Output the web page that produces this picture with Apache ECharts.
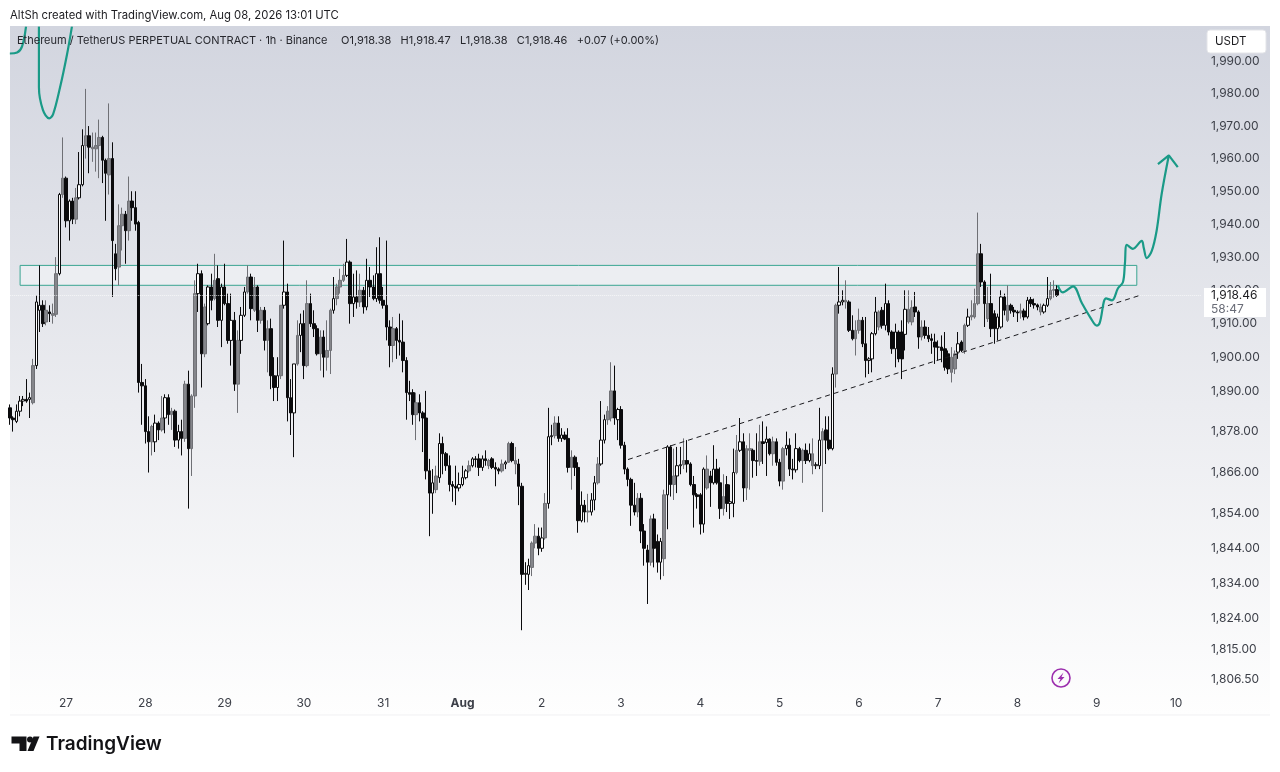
<!DOCTYPE html>
<html lang="en">
<head>
    <meta charset="UTF-8">
    <title>Ethereum / TetherUS PERPETUAL CONTRACT 1h</title>
    <script src="https://cdn.jsdelivr.net/npm/echarts@6/dist/echarts.min.js"></script>
    <style>
        html, body { margin: 0; padding: 0; background: #fff; }
        #main { width: 1280px; height: 772px; }
    </style>
</head>
<body>
<div id="main"></div>
<script type="text/javascript">
    // each row: open, close, low, high
    var jul26 = [[1885,1882,1880,1886],[1882,1881.5,1878,1882.5],[1881,1884,1880.5,1886],[1884,1887,1882.5,1888.5],[1887,1887.5,1885.5,1888.5],[1887.5,1887,1886.5,1893.5],[1887.5,1888,1882,1889.5],[1886.5,1897.5,1886,1899.5],[1897.5,1916.5,1896.5,1918.5],[1914,1915.5,1907.5,1927.5],[1915.5,1910,1909,1917],[1914,1910.5,1909.5,1917],[1913.5,1913,1910.5,1915.5],[1913,1912.5,1910,1916],[1912.8,1925,1912,1930],[1925,1949,1924.5,1949.5],[1949,1954,1948,1966.5]];
    var jul27 = [[1954,1941,1939,1954.5],[1941,1947,1935,1947.5],[1947,1941.5,1940,1948],[1941.5,1948,1940,1951],[1948,1952,1947.5,1962],[1952,1964,1951.5,1969],[1964,1967,1960,1981.5],[1967,1963.5,1955.5,1970],[1963.5,1963,1959,1968],[1963,1964,1956,1968],[1964,1966.5,1954,1972],[1966.5,1959.5,1952.5,1967],[1959.5,1955.5,1941,1960],[1955,1960,1949,1977],[1960,1935,1918,1965],[1931,1926.5,1923,1934],[1927,1939.5,1921.5,1946],[1939.5,1943,1932,1945],[1943,1938,1928,1944],[1938,1947,1935,1954.5],[1947,1945,1941,1950],[1945,1940,1938,1950],[1940.5,1892.5,1889.5,1941],[1892.5,1891.5,1880,1898]];
    var jul28 = [[1891.5,1878,1874.5,1893.5],[1878,1875,1866,1882.5],[1875,1879.5,1871,1880],[1875,1880.5,1872,1883],[1880.5,1878.5,1875.5,1881],[1878.5,1882,1878,1888.5],[1882,1888,1877.5,1889],[1888,1883,1880,1889],[1883,1884,1878.5,1885],[1884,1875.5,1873.5,1884.5],[1875.5,1878,1873,1880],[1878,1876,1871,1881.5],[1876,1892,1875,1893],[1892,1873,1855.5,1896],[1873,1888.5,1865,1889],[1888.5,1919,1885,1923],[1919,1925,1913.5,1928],[1925,1901,1891,1926],[1901,1915,1900,1916],[1910,1921,1909.5,1921.5],[1921,1917,1914,1925],[1917.5,1923,1917,1931],[1923.5,1911,1909,1927.5],[1911,1921,1903,1922]];
    var jul29 = [[1921,1916,1915.5,1928],[1916,1905,1904,1919],[1905,1911,1897.5,1919],[1911,1892,1890,1913.5],[1892,1905,1883.5,1908],[1905,1912.5,1901,1915],[1912.5,1919.5,1912,1921],[1919.5,1924,1919,1927.5],[1924,1914.5,1911,1925],[1914,1921,1913.5,1924],[1921,1911,1907.5,1921.5],[1911,1914,1910,1915],[1914,1905,1902,1915],[1905,1908.5,1895.5,1911],[1908.5,1894.5,1890.5,1911.5],[1894.5,1891,1887,1900],[1891,1894.5,1887,1900],[1894.5,1915.5,1893.5,1915.5],[1915.5,1919.5,1914.5,1935],[1919.5,1888,1881,1922],[1888,1883.5,1877,1893.5],[1883.5,1898,1870.5,1898],[1898,1906.5,1897.5,1911],[1906.5,1910,1901.5,1913]];
    var jul30 = [[1910,1897.5,1893.5,1914],[1897.5,1916,1897,1923],[1916,1910,1909,1919],[1910,1908.5,1906,1914],[1908.5,1901,1900.5,1909.5],[1901,1906,1896,1908],[1906,1900,1894,1908],[1900,1902,1896,1911],[1902,1914,1895,1914.5],[1914,1917.5,1913,1924],[1917.5,1921,1915.5,1922],[1921,1923,1919,1926.5],[1923,1924.5,1922.5,1928],[1924.5,1928.5,1924,1935.5],[1928.5,1916,1910,1929],[1916,1918,1912,1925],[1918,1916.5,1914.5,1926],[1916.5,1920,1915,1925],[1920,1915,1913,1921],[1915,1923,1914,1929.5],[1923,1921,1918,1927],[1921,1917.5,1917,1924.5],[1917.5,1925,1916.5,1933],[1925,1917,1916,1936]];
    var jul31 = [[1917,1915.5,1914.5,1921],[1915.5,1909,1905,1935],[1909,1903.5,1897,1911],[1903.5,1908.5,1898.5,1912],[1908.5,1905,1899.5,1909],[1905,1904.5,1900.5,1913],[1904.5,1899,1895.5,1911],[1899,1889.5,1881.5,1900],[1889.5,1889,1887,1893],[1889.5,1883,1880,1890.5],[1883,1886.5,1875.5,1889.5],[1886.5,1883.5,1881,1889],[1883.5,1882,1872,1884],[1882,1866.5,1864,1890],[1866.5,1860,1847.5,1870],[1860,1863,1854,1867],[1861,1865,1860,1868],[1864.5,1874.5,1863,1877.5],[1874.5,1871.5,1865.5,1876.5],[1871.5,1868,1866.5,1872],[1868,1862.5,1860.5,1871],[1862.5,1862,1857.5,1863.5],[1862,1861.5,1856.5,1868],[1861.5,1862.5,1860.5,1866]];
    var aug1 = [[1862.5,1864.5,1862,1868],[1864.5,1866.5,1864,1867],[1866.5,1868,1866,1869.5],[1868,1870,1867.5,1870.5],[1870,1869.8,1867.5,1870.8],[1870,1867.5,1865,1871.5],[1867.5,1870,1866.5,1871],[1870,1869.5,1868,1872.5],[1869.5,1868,1867,1870],[1870,1867.5,1867,1870.5],[1867.5,1867,1862,1869],[1867,1866.5,1865.5,1867.5],[1866.5,1868.5,1866,1869.8],[1868.5,1869,1867,1869.5],[1869,1874.5,1868.8,1875],[1874.5,1869.5,1869,1875],[1869.5,1868.5,1865.5,1873.5],[1868.5,1862,1856.5,1870],[1862,1836.5,1820.5,1863],[1836.5,1836.8,1833.5,1840],[1836.5,1839,1832,1841],[1838.5,1845.5,1836,1846],[1845.5,1847.5,1844,1851],[1847.5,1844,1842,1850]];
    var aug2 = [[1844,1847,1843,1850],[1847,1857,1846.5,1860],[1857,1876.5,1855.5,1885],[1876.5,1876.8,1874,1880],[1876.8,1880.5,1876,1882.5],[1880.5,1876,1875,1882.5],[1876,1877,1875,1879],[1877,1875.8,1875.5,1878],[1876,1867.5,1866,1879],[1867.5,1870.5,1861,1872.5],[1870.5,1867.5,1865,1871],[1867.5,1852,1848.5,1869],[1852,1856.5,1851.5,1860.5],[1856.5,1854.5,1851.5,1858],[1854.5,1854.8,1851.5,1859.8],[1854.5,1858,1853.5,1860],[1858,1863,1855,1865],[1863,1868.5,1862.5,1870.5],[1868.5,1875.5,1868,1887],[1875.5,1881.5,1874.5,1883],[1881.5,1884,1880,1885.5],[1882,1890,1881,1898.5],[1890,1882,1880,1897.5],[1881.5,1884.5,1875.5,1885]];
    var aug3 = [[1884.5,1874,1873,1885.5],[1874,1867,1865.5,1875],[1867,1864,1862,1867.5],[1864,1856.5,1850.5,1864.5],[1856.5,1854.5,1853.5,1863],[1854.5,1858.5,1853,1860],[1858.5,1849,1845.5,1860],[1849,1844,1839,1851],[1843.5,1840,1828,1845],[1840,1852.5,1839,1853.5],[1852.5,1844,1838.5,1854],[1846,1840,1837,1848],[1840,1846,1835,1847],[1841,1859.5,1836,1861],[1859.5,1873.5,1849.5,1874],[1873.5,1862.5,1859,1874],[1862.5,1865,1858,1873],[1865,1868,1860,1873.5],[1868,1868.3,1865.5,1873.5],[1868.3,1869.5,1867,1876],[1869.5,1868.5,1866,1875.5],[1868.5,1862.5,1862,1869],[1862.5,1859.5,1850,1865],[1859.5,1859,1855.5,1860]];
    var aug4 = [[1859.5,1851,1848,1860],[1851,1867,1848.5,1867.5],[1867,1861.5,1861,1871],[1865,1863,1856,1866.5],[1863,1867,1862.5,1874],[1867,1863,1862.5,1870],[1863,1855.5,1852.5,1867.5],[1855.5,1859,1853.5,1865.5],[1862.5,1857,1854.5,1865],[1857,1857.5,1852.5,1862.5],[1857,1866,1853,1873],[1866,1872.5,1865.5,1877],[1872.5,1875,1872,1882],[1875,1861.5,1857.5,1877.5],[1861.5,1873,1858,1874],[1873,1872.5,1861,1877.5],[1872.5,1869.5,1864.5,1873],[1869.5,1869.3,1865,1877.5],[1869.3,1875,1868,1880],[1875,1874.5,1868.5,1881],[1874.8,1875.8,1865,1879.5],[1875.8,1871.5,1871,1876],[1871.5,1875,1868,1876.5],[1875,1869,1868,1876]];
    var aug5 = [[1869,1863.5,1862,1870],[1863.5,1873,1861,1873.5],[1873,1874,1871,1878],[1874,1867,1865,1876],[1867,1866.8,1864,1870],[1866.8,1873,1866,1877.5],[1873,1869.5,1869,1873.5],[1869.5,1872.5,1863,1873],[1872.5,1869.5,1868.5,1874.5],[1869.5,1871.5,1869,1874.5],[1871.5,1868,1865.5,1876],[1868,1868.3,1867,1869],[1868,1875.5,1867,1885],[1875.5,1878,1854.5,1879],[1878.5,1875.5,1868.5,1882.5],[1875.5,1873,1872.5,1882.5],[1873,1895,1872.5,1897],[1895,1915.5,1891,1916],[1915.5,1916.5,1913,1927],[1916.5,1917,1915.5,1920],[1917,1916.5,1914.5,1923],[1916.5,1908,1907.5,1917],[1908,1905.5,1905,1912.5],[1905.5,1908,1900.5,1911]];
    var aug6 = [[1908,1911,1907,1914.5],[1911,1904,1903,1912],[1904,1899,1894,1912],[1899,1899.5,1895,1900],[1899.5,1907,1895.5,1907.5],[1907,1913.5,1906.5,1918],[1913.5,1909,1908,1914],[1914,1909.5,1908.5,1915],[1909.5,1916,1908,1922],[1916,1907.5,1906.5,1917],[1907.5,1902.5,1901,1908],[1902.5,1907.5,1897,1910],[1907.5,1899.5,1898.5,1908],[1907.5,1899.5,1893.5,1911],[1906.8,1914.3,1902,1920],[1914.3,1910.5,1910,1920],[1910.5,1914.8,1909.5,1917],[1915,1913.5,1912,1919.5],[1913.5,1906,1902.5,1914],[1906,1909,1905,1911],[1909,1906.5,1905.5,1911],[1906.5,1905.5,1904.5,1909],[1905.5,1905,1901,1907],[1904.5,1903,1898,1907]];
    var aug7 = [[1903,1903,1899,1905],[1903,1902,1898.5,1906.5],[1902.5,1897,1896,1907.5],[1901,1896.5,1895,1902],[1895.5,1900,1892.5,1903],[1896.5,1901,1895,1902],[1901.5,1904,1899.5,1907.5],[1904.5,1902,1901.5,1905],[1902,1909.5,1901,1910],[1909.5,1912,1909,1914.5],[1912,1912.5,1911,1917],[1912,1916,1911.5,1920.5],[1916,1931,1915.5,1943.5],[1931,1922.5,1921,1934],[1922.5,1916,1909,1923],[1911.5,1916,1910.5,1921],[1916,1908.5,1906,1925],[1913,1908.5,1904,1914],[1908.5,1912,1905,1913],[1909,1918,1908.5,1920],[1918,1914,1912.5,1919],[1911,1915.5,1910.5,1921.5],[1915.5,1914,1913,1916],[1914,1913.5,1912,1915]];
    var aug8 = [[1913.5,1913.2,1910.5,1914],[1913.2,1913.8,1911.5,1916],[1913.8,1912,1911,1914.5],[1912,1917,1911.5,1918],[1917.2,1916,1915,1918],[1916,1915.6,1914.5,1917.5],[1915.6,1915,1914,1916],[1915,1913.5,1912.5,1916],[1913.5,1915.5,1913,1916],[1915.5,1917.5,1915,1924],[1917.5,1920,1917,1922.5],[1920,1920.2,1917.8,1923],[1920.2,1918.46,1918,1921.5]];
    var candles = [].concat(jul26, jul27, jul28, jul29, jul30, jul31, aug1, aug2, aug3, aug4, aug5, aug6, aug7, aug8);

    // candles that look washed out in the screenshot
    var greyCandles = [7,11,13,14,16,20,23,25,26,27,30,33,34,36,43,46,49,53,55,56,59,62,69,72,74,76,78,82,87,90,94,96,97,99,100,101,106,116,123,129,139,145,149,151,153,158,159,162,165,170,175,178,181,182,190,194,198,201,204,211,216,220,223,224,227,231,234,240,243,246,250,253,256,257,263,272,273,276,285,286,289,291,292,293,296,302,306,312,315,316];

    var dayTicks = [17,41,65,89,113,137,161,185,209,233,257,281,305,329,353];
    var dayNames = ['27','28','29','30','31','Aug','2','3','4','5','6','7','8','9','10'];
    var priceTicks = [1990,1980,1970,1960,1950,1940,1930,1920,1910,1900,1890,1878,1866,1854,1844,1834,1824,1815,1806.5];
    var lastPrice = 1918.46;

    // drawn annotations, [bar position, price]
    var curveEdgeLeft = [[0,1992.5],[2.2,1992.8],[3.7,1994.7],[4.9,2001]];
    var curveDrop = [[8.8,2001],[8.8,1982],[10,1975],[11.9,1972.4],[13.1,1973.7],[15.2,1982],[17.3,1992.2],[18.8,2001]];
    var curveForecast = [[317.2,1921.5],[318.7,1919.4],[321.8,1921.2],[324.5,1916.1],[327,1911.9],[329,1909.4],[329.9,1910.3],[331.8,1917.6],[333.6,1917],[335.4,1920.6],[336.9,1922.4],[337.5,1928],[338.1,1933.7],[339.9,1932.5],[342.6,1934.9],[343.2,1932.8],[344.1,1929.7],[345.6,1931.8],[347.1,1938],[348.6,1949],[350.8,1961]];
    var arrowHead = [[347.5,1958.3],[350.8,1961],[353.5,1957.4]];
    var trendLine = [[187.1,1869.8],[342.1,1918.5]];
    var zoneBox = [[3.1,1927.5],[341.1,1921.5]];

    var barCount = 361;
    var categories = [];
    for (var i = 0; i < barCount; i++) categories.push(String(i));

    var candleData = candles.map(function (row, idx) {
        if (greyCandles.indexOf(idx) < 0) return row;
        return {
            value: row,
            itemStyle: { color: '#85868b', color0: '#85868b', borderColor: '#6f7075', borderColor0: '#6f7075' }
        };
    });

    var green = '#1a9a87';
    var font = 'Inter, "Liberation Sans", sans-serif';

    function greenLine(points) {
        return {
            type: 'line', xAxisIndex: 1, data: points, smooth: 0.35, symbol: 'none', z: 6, silent: true,
            lineStyle: { color: green, width: 2.2 }
        };
    }

    var myChart = echarts.init(document.getElementById('main'), null, { renderer: 'canvas' });

    var option = {
        animation: false,
        backgroundColor: '#ffffff',
        textStyle: { fontFamily: font },
        grid: { left: 8.2, top: 27.6, width: 1192.7, height: 664 },
        xAxis: [
            {
                type: 'category',
                data: categories,
                boundaryGap: true,
                axisLine: { show: false },
                axisTick: { show: false },
                splitLine: { show: false },
                axisLabel: {
                    margin: 5.5,
                    color: '#3d4049',
                    fontSize: 12,
                    fontFamily: font,
                    interval: function (idx) { return dayTicks.indexOf(idx) >= 0; },
                    formatter: function (value) {
                        var name = dayNames[dayTicks.indexOf(Number(value))];
                        return name === 'Aug' ? '{b|Aug}' : name;
                    },
                    rich: { b: { fontWeight: 'bold', fontSize: 12, color: '#3d4049', fontFamily: font } }
                }
            },
            { type: 'value', min: -0.5, max: barCount - 0.5, show: false }
        ],
        yAxis: {
            type: 'log',
            logBase: 10,
            position: 'right',
            min: 1803.1,
            max: 2000.6,
            axisLine: { show: false },
            axisTick: { show: false },
            splitLine: { show: false },
            axisLabel: {
                customValues: priceTicks,
                margin: 10,
                color: '#3d4049',
                fontSize: 12,
                fontFamily: font,
                formatter: function (v) {
                    return Number(v).toLocaleString('en-US', { minimumFractionDigits: 2, maximumFractionDigits: 2 });
                }
            }
        },
        series: [
            {
                type: 'candlestick',
                name: 'ETHUSDT',
                data: candleData,
                barWidth: 3,
                z: 4,
                itemStyle: {
                    color: '#ffffff',
                    color0: '#0b0b0d',
                    borderColor: '#0b0b0d',
                    borderColor0: '#0b0b0d',
                    borderWidth: 1
                },
                markLine: {
                    silent: true,
                    symbol: 'none',
                    label: { show: false },
                    lineStyle: { color: '#ffffff', type: 'dotted', width: 1, opacity: 0.7 },
                    data: [{ yAxis: lastPrice }]
                }
            },
            {
                type: 'line',
                xAxisIndex: 1,
                data: trendLine,
                symbol: 'none',
                z: 5,
                silent: true,
                lineStyle: { color: '#1b1b1f', width: 1, type: [5, 4] },
                markArea: {
                    silent: true,
                    itemStyle: { color: 'rgba(246,248,250,0.5)', borderColor: '#3aa592', borderWidth: 1 },
                    data: [[{ coord: zoneBox[0] }, { coord: zoneBox[1] }]]
                }
            },
            greenLine(curveEdgeLeft),
            greenLine(curveDrop),
            greenLine(curveForecast),
            {
                type: 'line', xAxisIndex: 1, data: arrowHead, symbol: 'none', z: 6, silent: true,
                lineStyle: { color: green, width: 2.2 }
            }
        ],
        graphic: [
            // chart background
            { type: 'rect', z: -10, silent: true, shape: { x: 10, y: 26, width: 1260, height: 689 },
              style: { fill: new echarts.graphic.LinearGradient(0, 0, 0, 1, [
                  { offset: 0, color: '#d2d5df' }, { offset: 0.55, color: '#ebecf0' }, { offset: 1, color: '#fefefe' }]) } },
            { type: 'line', z: -9, silent: true, shape: { x1: 10, y1: 715, x2: 1270, y2: 715 }, style: { stroke: '#f1f1f3', lineWidth: 1 } },
            // header texts
            { type: 'text', z: 100, left: 10, top: 10, style: { text: 'AltSh created with TradingView.com, Aug 08, 2026 13:01 UTC', fill: '#1c1c20', font: '11.3px ' + font } },
            { type: 'text', z: 100, left: 17, top: 35, style: { text: 'Ethereum / TetherUS PERPETUAL CONTRACT · 1h · Binance', fill: '#26272d', font: '11px ' + font } },
            { type: 'text', z: 100, left: 341, top: 35, style: { text: 'O1,918.38   H1,918.47   L1,918.38   C1,918.46   +0.07 (+0.00%)', fill: '#26272d', font: '11px ' + font } },
            // currency button
            { type: 'rect', z: 100, shape: { x: 1207, y: 30, width: 59, height: 23, r: 3 }, style: { fill: '#ffffff', stroke: '#e3e4e8', lineWidth: 1 } },
            { type: 'text', z: 101, left: 1215, top: 36, style: { text: 'USDT', fill: '#1c1c20', font: '11.5px ' + font } },
            // last price tag
            { type: 'rect', z: 100, shape: { x: 1204, y: 288, width: 62, height: 29 }, style: { fill: '#ffffff' } },
            { type: 'text', z: 101, left: 1211, top: 289, style: { text: '1,918.46', fill: '#1c1c20', font: '12px ' + font } },
            { type: 'text', z: 101, left: 1211, top: 303, style: { text: '58:47', fill: '#6a6d78', font: '12px ' + font } },
            // lightning badge
            { type: 'circle', z: 100, shape: { cx: 1061, cy: 678, r: 9 }, style: { fill: 'rgba(255,255,255,0)', stroke: '#9c2fae', lineWidth: 1.6 } },
            { type: 'polygon', z: 100, shape: { points: [[1063.5,672.5],[1057.5,679],[1060.5,679],[1058.5,683.5],[1064.5,677],[1061.5,677]] }, style: { fill: '#9c2fae' } },
            // TradingView logo
            { type: 'polygon', z: 100, shape: { points: [[11.5,736.5],[26.5,736.5],[26.5,751],[19.5,751],[19.5,743.5],[11.5,743.5]] }, style: { fill: '#131316' } },
            { type: 'circle', z: 100, shape: { cx: 30, cy: 739.5, r: 3 }, style: { fill: '#131316' } },
            { type: 'polygon', z: 100, shape: { points: [[33.5,736.5],[39.5,736.5],[33.5,751],[27.5,751]] }, style: { fill: '#131316' } },
            { type: 'text', z: 100, left: 46, top: 735, style: { text: 'TradingView', fill: '#131316', font: '600 19px ' + font } }
        ]
    };

    myChart.setOption(option);
</script>
</body>
</html>
